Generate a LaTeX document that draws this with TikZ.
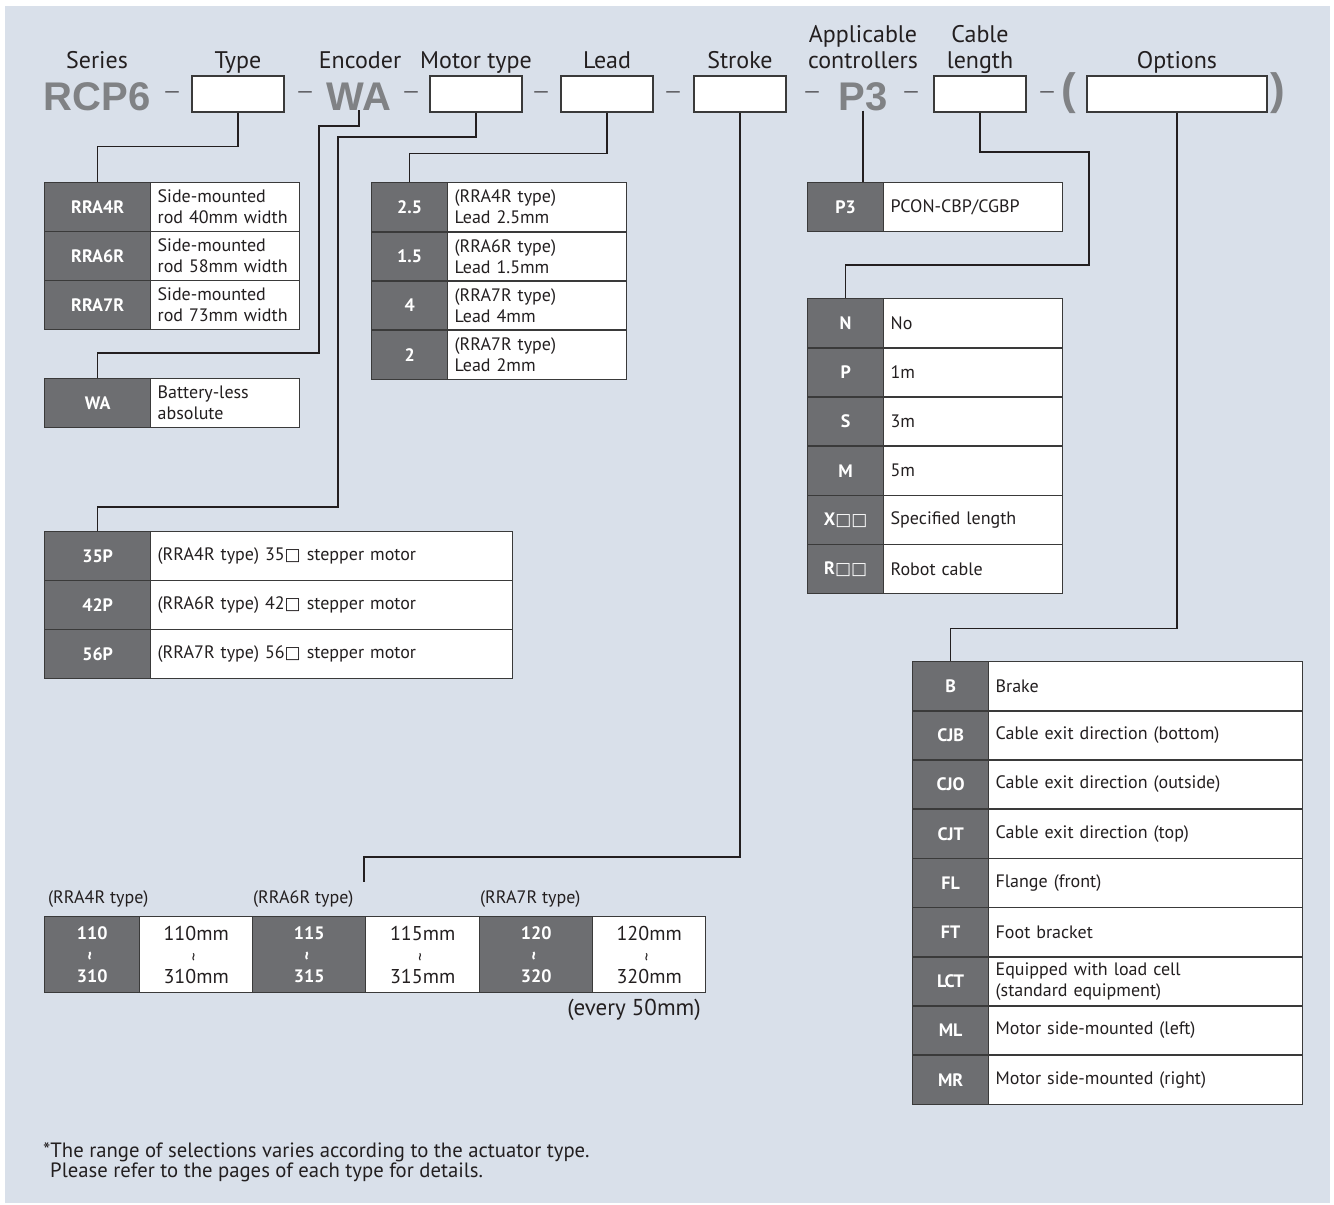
\documentclass[tikz,border=0pt]{standalone}
\usepackage{fontspec}
\setmainfont{PT Sans}
\newfontfamily\hdr{PT Sans}
\newfontfamily\bigf{Liberation Sans}
\newfontfamily\symf{DejaVu Sans}
\definecolor{bg}{HTML}{D9E0EA}
\definecolor{keyg}{HTML}{6D6E71}
\definecolor{bord}{HTML}{3A3A3A}
\definecolor{ink}{HTML}{231F20}
\definecolor{biggray}{HTML}{808285}
\newcommand{\sq}{{\symf\fontsize{17}{17}\selectfont □}}
\newcommand{\wv}{\rotatebox{90}{\fontsize{17}{17}\selectfont\textasciitilde}}
\tikzset{
  hbox/.style={draw=bord, line width=1.2pt, fill=white, minimum width=92pt, minimum height=36pt, inner sep=0pt},
  lbl/.style={font=\hdr\fontsize{24}{26}\selectfont, text=ink, inner sep=0pt, anchor=base},
  bigt/.style={font=\bigf\bfseries\fontsize{40}{40}\selectfont, text=biggray, inner sep=0pt, anchor=base},
  sepdash/.style={font=\symf\fontsize{15}{15}\selectfont, text=ink, inner sep=0pt},
  conn/.style={draw=ink, line width=1.1pt},
  keyc/.style={draw=bord, line width=1.3pt, fill=keyg, text=white, font=\bfseries\fontsize{18}{21}\selectfont, inner sep=0pt, anchor=north west, minimum height=49pt},
  valc/.style={draw=bord, line width=1.3pt, fill=white, text=ink, font=\fontsize{18}{21}\selectfont, align=left, inner xsep=7pt, inner ysep=0pt, anchor=north west, text width=#1, minimum height=49pt},
  skey/.style={draw=bord, line width=1.3pt, fill=keyg, text=white, font=\bfseries\fontsize{18}{21.5}\selectfont, align=center, inner sep=0pt, anchor=north west, minimum height=76pt, minimum width=#1},
  sval/.style={draw=bord, line width=1.3pt, fill=white, text=ink, font=\hdr\fontsize{20}{21.5}\selectfont, align=center, inner sep=0pt, anchor=north west, minimum height=76pt, minimum width=#1},
  slbl/.style={font=\hdr\fontsize{18}{20}\selectfont, text=ink, inner sep=0pt, anchor=base west},
}
\begin{document}
\begin{tikzpicture}[x=1pt,y=-1pt]
\useasboundingbox (0,0) rectangle (1334,1205);
\fill[bg] (5,6) rectangle (1330,1203);

% ---------- header labels ----------
\node[lbl] (lSeries) at (97,68) {Series};
\node[lbl] (lType) at (238,68) {Type};
\node[lbl] (lEnc) at (360,68) {Encoder};
\node[lbl] (lMotor) at (476,68) {Motor type};
\node[lbl] (lLead) at (607,68) {Lead};
\node[lbl] (lStroke) at (740,68) {Stroke};
\node[lbl] (lCtrlA) at (863,42) {Applicable};
\node[lbl] (lCtrlB) at (863,68) {controllers};
\node[lbl] (lCabA) at (980,42) {Cable};
\node[lbl] (lCabB) at (980,68) {length};
\node[lbl] (lOpt) at (1177,68) {Options};

% ---------- model code row ----------
\node[bigt] (rcp) at (97,110) {RCP6};
\node[hbox] (typebox) at (238,94) {};
\node[bigt] (wa) at (359,110) {WA};
\node[hbox] (motorbox) at (476,94) {};
\node[hbox] (leadbox) at (607,94) {};
\node[hbox] (strokebox) at (740,94) {};
\node[bigt] (p3) at (863,110) {P3};
\node[hbox] (cablebox) at (980,94) {};
\node[bigt, anchor=center, font=\bigf\bfseries\fontsize{44}{44}\selectfont] (lpar) at (1069,93) {(};
\node[hbox, minimum width=180pt] (optbox) at (1177,94) {};
\node[bigt, anchor=center, font=\bigf\bfseries\fontsize{44}{44}\selectfont] (rpar) at (1278,93) {)};
\node[sepdash] (d1) at (172,94) {—};
\node[sepdash] (d2) at (305,94) {—};
\node[sepdash] (d3) at (411,94) {—};
\node[sepdash] (d4) at (541,94) {—};
\node[sepdash] (d5) at (673,94) {—};
\node[sepdash] (d6) at (812,94) {—};
\node[sepdash] (d7) at (911,94) {—};
\node[sepdash] (d8) at (1047,94) {—};

% ---------- Type table ----------
\foreach \i/\k/\v in {0/RRA4R/{Side-mounted\\rod 40mm width},1/RRA6R/{Side-mounted\\rod 58mm width},2/RRA7R/{Side-mounted\\rod 73mm width}}{
  \node[keyc, minimum width=106pt] (tk\i) at (44,{182+49*\i}) {\k};
  \node[valc=135pt] (tv\i) at (150,{182+49*\i}) {\v};
}
% ---------- Encoder table ----------
\node[keyc, minimum width=106pt] (wk) at (44,378) {WA};
\node[valc=135pt] (wv) at (150,378) {Battery-less\\absolute};

% ---------- Lead table ----------
\foreach \i/\k/\v in {0/2.5/{(RRA4R type)\\Lead 2.5mm},1/1.5/{(RRA6R type)\\Lead 1.5mm},2/4/{(RRA7R type)\\Lead 4mm},3/2/{(RRA7R type)\\Lead 2mm}}{
  \node[keyc, minimum width=76pt] (lk\i) at (371,{182+49.2*\i}) {\k};
  \node[valc=165pt] (lv\i) at (447,{182+49.2*\i}) {\v};
}

% ---------- Motor table ----------
\foreach \i/\k/\v in {0/35P/{(RRA4R type) 35\sq\ stepper motor},1/42P/{(RRA6R type) 42\sq\ stepper motor},2/56P/{(RRA7R type) 56\sq\ stepper motor}}{
  \node[keyc, minimum width=106pt] (mk\i) at (44,{531+49*\i}) {\k};
  \node[valc=348pt] (mv\i) at (150,{531+49*\i}) {\v};
}

% ---------- Controller table ----------
\node[keyc, minimum width=76pt] (pk) at (807,182) {P3};
\node[valc=165pt] (pv) at (883,182) {PCON-CBP/CGBP};

% ---------- Cable table ----------
\foreach \i/\k/\v in {0/N/No,1/P/1m,2/S/3m,3/M/5m,4/{X\sq\sq}/Specified length,5/{R\sq\sq}/Robot cable}{
  \node[keyc, minimum width=76pt] (ck\i) at (807,{298+49.2*\i}) {\k};
  \node[valc=165pt] (cv\i) at (883,{298+49.2*\i}) {\v};
}

% ---------- Options table ----------
\foreach \i/\k/\v in {0/B/Brake,1/CJB/Cable exit direction (bottom),2/CJO/Cable exit direction (outside),3/CJT/Cable exit direction (top),4/FL/Flange (front),5/FT/Foot bracket,6/LCT/{Equipped with load cell\\(standard equipment)},7/ML/Motor side-mounted (left),8/MR/Motor side-mounted (right)}{
  \node[keyc, minimum width=76pt] (ok\i) at (912,{661+49.2*\i}) {\k};
  \node[valc=300pt] (ov\i) at (988,{661+49.2*\i}) {\v};
}

% ---------- Stroke table ----------
\node[slbl] (sl1) at (48,903) {(RRA4R type)};
\node[slbl] (sl2) at (253,903) {(RRA6R type)};
\node[slbl] (sl3) at (480,903) {(RRA7R type)};
\node[skey=95pt] (s1) at (44,916) {110\\\wv\\310};
\node[sval=113pt] (s2) at (139,916) {110mm\\\wv\\310mm};
\node[skey=113pt] (s3) at (252,916) {115\\\wv\\315};
\node[sval=114pt] (s4) at (365,916) {115mm\\\wv\\315mm};
\node[skey=113pt] (s5) at (479,916) {120\\\wv\\320};
\node[sval=113pt] (s6) at (592,916) {120mm\\\wv\\320mm};
\node[font=\fontsize{23}{26}\selectfont, text=ink, inner sep=0pt, anchor=base east] (every) at (701,1015) {(every 50mm)};

% ---------- connectors ----------
\coordinate (waA) at (319,126);
\coordinate (waB) at (319,353);
\coordinate (moA) at (338,137);
\coordinate (moB) at (338,507);
\coordinate (stA) at (364,857);
\coordinate (stB) at (364,882);
\coordinate (caA) at (1089,152);
\coordinate (caB) at (1089,265);
\draw[conn] (typebox.south) -- ++(0,34) -| (tk0.north);
\draw[conn] (wa.south) |- (waA) -- (waB) -| (wk.north);
\draw[conn] (motorbox.south) |- (moA) -- (moB) -| (mk0.north);
\draw[conn] (leadbox.south) -- ++(0,41) -| (lk0.north);
\draw[conn] (strokebox.south) |- (stA) -- (stB);
\draw[conn] (p3.south) -- (p3.south |- pk.north);
\draw[conn] (cablebox.south) |- (caA) -- (caB) -| (ck0.north);
\draw[conn] (optbox.south) -- ++(0,516) -| (ok0.north);

% ---------- footnote ----------
\node[font=\fontsize{20.7}{21}\selectfont, text=ink, inner sep=0pt, anchor=base west] (note1) at (43,1157) {*The range of selections varies according to the actuator type.};
\node[font=\fontsize{20.7}{21}\selectfont, text=ink, inner sep=0pt, anchor=base west] (note2) at (50,1177) {Please refer to the pages of each type for details.};
\end{tikzpicture}
\end{document}
